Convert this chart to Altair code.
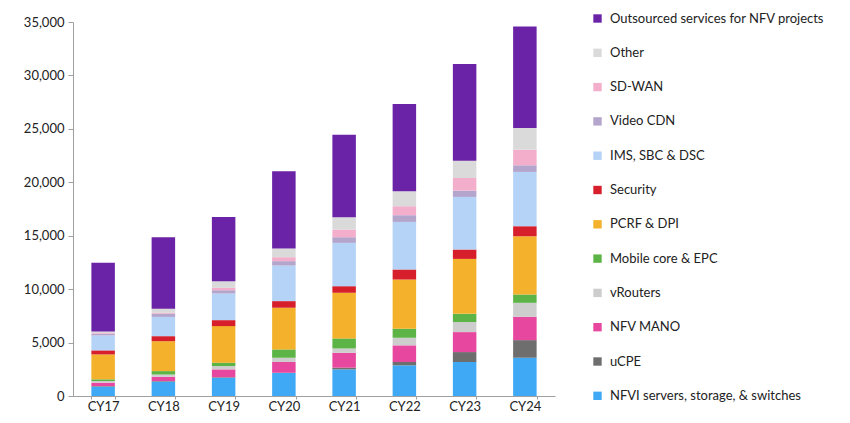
import altair as alt
import pandas as pd

years = ["CY17", "CY18", "CY19", "CY20", "CY21", "CY22", "CY23", "CY24"]

# stacking order: bottom -> top
segments = [
    "NFVI servers, storage, & switches",
    "uCPE",
    "NFV MANO",
    "vRouters",
    "Mobile core & EPC",
    "PCRF & DPI",
    "Security",
    "IMS, SBC & DSC",
    "Video CDN",
    "SD-WAN",
    "Other",
    "Outsourced services for NFV projects",
]
colors = [
    "#3FA9F5", "#6E6E6E", "#E8479F", "#CDCDCD", "#5CB447", "#F3B12C",
    "#D71F2B", "#B5D3F6", "#B3A5CC", "#F2AECB", "#DADADA", "#6A22A6",
]

nfvi       = [880, 1350, 1710, 2150, 2490, 2870, 3180, 3580]
ucpe       = [50, 50, 50, 30, 160, 310, 930, 1650]
mano       = [320, 400, 730, 1000, 1400, 1560, 1870, 2180]
vrouters   = [150, 210, 310, 400, 400, 710, 940, 1310]
mobile     = [160, 320, 320, 780, 940, 840, 770, 780]
pcrf       = [2330, 2800, 3420, 3900, 4270, 4610, 5140, 5450]
security   = [380, 470, 560, 620, 620, 940, 880, 940]
ims        = [1400, 1800, 2490, 3330, 4050, 4450, 4920, 5080]
video_cdn  = [160, 300, 310, 410, 530, 630, 590, 620]
sd_wan     = [60, 80, 220, 370, 720, 840, 1180, 1460]
other      = [150, 390, 630, 810, 1150, 1400, 1620, 2030]
outsourced = [6420, 6690, 6010, 7230, 7720, 8160, 9040, 9500]

series = [nfvi, ucpe, mano, vrouters, mobile, pcrf, security, ims,
          video_cdn, sd_wan, other, outsourced]

rows = []
for i, (name, vals) in enumerate(zip(segments, series)):
    for y, v in zip(years, vals):
        rows.append({"year": y, "segment": name, "value": v, "order": i})
df = pd.DataFrame(rows)

FONT = "Lato"

chart = alt.Chart(df).mark_bar().encode(
    x=alt.X("year:N", sort=years,
            scale=alt.Scale(paddingInner=0.61, paddingOuter=0.305),
            axis=alt.Axis(title=None, labelAngle=0, tickBand="extent",
                          tickSize=3, labelPadding=1, labelFontSize=13,
                          labelColor="#222", domainColor="#A0A0A0",
                          tickColor="#A0A0A0")),
    y=alt.Y("value:Q", stack="zero",
            scale=alt.Scale(domain=[0, 35000], nice=False),
            axis=alt.Axis(title=None, values=list(range(0, 35001, 5000)),
                          format=",.0f", grid=False, tickSize=5,
                          labelFontSize=13, labelColor="#222",
                          labelPadding=4, domainColor="#A0A0A0",
                          tickColor="#A0A0A0")),
    color=alt.Color("segment:N",
                    scale=alt.Scale(domain=segments[::-1], range=colors[::-1]),
                    legend=alt.Legend(title=None, orient="none",
                                      legendX=518, legendY=-10,
                                      symbolType="square", symbolSize=70,
                                      symbolStrokeWidth=0, labelFontSize=13,
                                      labelColor="#222", rowPadding=20.3,
                                      labelLimit=300, labelOffset=6)),
    order=alt.Order("order:Q", sort="ascending"),
).properties(
    width=482,
    height=374,
    padding={"left": 65, "top": 14, "right": 280, "bottom": 19},
    autosize=alt.AutoSizeParams(type="none"),
).configure(
    font=FONT,
).configure_view(
    stroke=None,
)

chart.save("out.html", embed_options={"renderer": "svg", "actions": False})
